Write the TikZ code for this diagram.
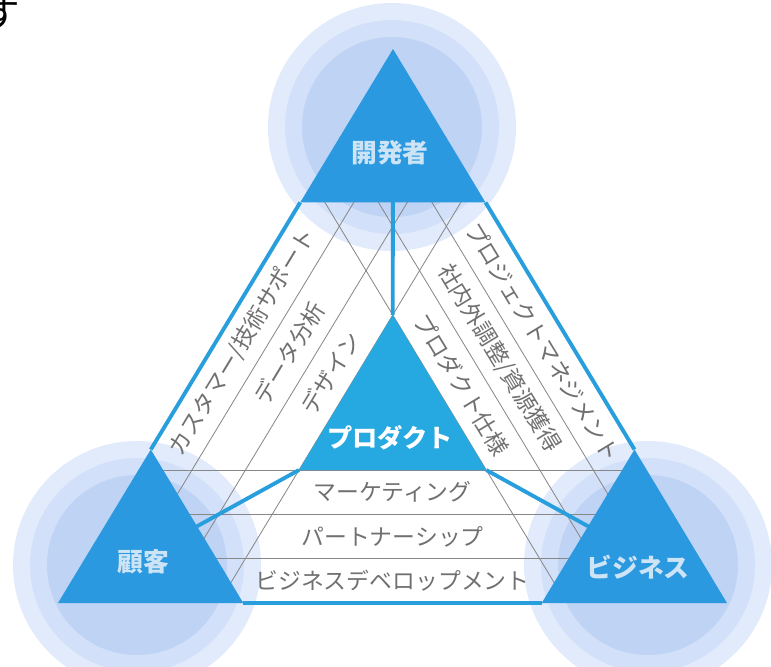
\documentclass[tikz,border=0pt]{standalone}
\usepackage{fontspec}
\setmainfont{Noto Sans CJK JP}
\usepackage{xcolor}
\usepackage{tikz}
\usetikzlibrary{calc}

\definecolor{roleblue}{RGB}{43,153,223}
\definecolor{prodblue}{RGB}{38,168,225}
\definecolor{edgeblue}{RGB}{40,158,220}
\definecolor{haloout}{RGB}{226,235,251}
\definecolor{halomid}{RGB}{210,224,249}
\definecolor{haloin}{RGB}{191,211,245}
\definecolor{rolelabel}{RGB}{205,227,246}
\definecolor{bandtext}{RGB}{112,112,112}
\definecolor{gridgray}{RGB}{135,135,135}

\begin{document}
\begin{tikzpicture}[x=0.03cm, y=-0.03cm,
    gridline/.style={draw=gridgray, line width=0.7pt},
    edge/.style={draw=edgeblue, line width=3.3pt},
    rolebox/.style={fill=roleblue},
    rolename/.style={text=rolelabel, font=\bfseries\fontsize{22}{24}\selectfont},
    prodname/.style={text=white, font=\bfseries\fontsize{21.5}{24}\selectfont},
    bandlabel/.style={text=bandtext, font=\fontsize{19.5}{22}\selectfont, inner sep=0pt}]
\useasboundingbox (0,0) rectangle (771,667);

% big triangle
\coordinate (A) at (393,49);
\coordinate (B) at (58,603);
\coordinate (C) at (727,603);

% corner triangles
\coordinate (devL) at (barycentric cs:A=0.723,B=0.277);
\coordinate (devR) at (barycentric cs:A=0.723,C=0.277);
\coordinate (cusT) at (barycentric cs:B=0.723,A=0.277);
\coordinate (cusR) at (barycentric cs:B=0.723,C=0.277);
\coordinate (bizT) at (barycentric cs:C=0.723,A=0.277);
\coordinate (bizL) at (barycentric cs:C=0.723,B=0.277);
\coordinate (dev) at (barycentric cs:A=1,devL=1,devR=1);
\coordinate (cus) at (barycentric cs:B=1,cusT=1,cusR=1);
\coordinate (biz) at (barycentric cs:C=1,bizT=1,bizL=1);

% product triangle
\coordinate (prodT) at (barycentric cs:A=0.52,B=0.24,C=0.24);
\coordinate (prodL) at (barycentric cs:A=0.24,B=0.52,C=0.24);
\coordinate (prodR) at (barycentric cs:A=0.24,B=0.24,C=0.52);

% halos
\foreach \cx/\cy in {392/127, 137/565, 648/565} {
  \fill[haloout] (\cx,\cy) circle (124);
  \fill[halomid] (\cx,\cy) circle (107);
  \fill[haloin] (\cx,\cy) circle (90);
}

% grid of the three bands
\foreach \t/\s in {0.08/0.92, 0.16/0.84, 0.24/0.76} {
  \draw[gridline] (barycentric cs:A=\t,B=\s) -- (barycentric cs:A=\t,C=\s);
  \draw[gridline] (barycentric cs:B=\t,A=\s) -- (barycentric cs:B=\t,C=\s);
  \draw[gridline] (barycentric cs:C=\t,A=\s) -- (barycentric cs:C=\t,B=\s);
}

% spokes and outline
\draw[edge] (prodT) -- (dev);
\draw[edge] (prodL) -- (cus);
\draw[edge] (prodR) -- (biz);
\draw[edge] (devL) -- (cusT);
\draw[edge] (cusR) -- (bizL);
\draw[edge] (bizT) -- (devR);

\fill[rolebox] (A) -- (devL) -- (devR) -- cycle;
\fill[rolebox] (B) -- (cusT) -- (cusR) -- cycle;
\fill[rolebox] (C) -- (bizT) -- (bizL) -- cycle;
\fill[prodblue] (prodT) -- (prodL) -- (prodR) -- cycle;

\node[rolename] (devname) at (390,153) {開発者};
\node[rolename] (cusname) at (143,562) {顧客};
\node[rolename] (bizname) at (638,567) {ビジネス};
\node[prodname] (prodname) at (390,438) {プロダクト};

% left band
\node[bandlabel, rotate=58.84] (support) at (barycentric cs:A=0.471,B=0.489,C=0.04) {カスタマー/技術サポート};
\node[bandlabel, rotate=58.84] (analysis) at (barycentric cs:A=0.451,B=0.429,C=0.12) {データ分析};
\node[bandlabel, rotate=58.84] (design) at (barycentric cs:A=0.415,B=0.385,C=0.20) {デザイン};

% right band
\node[bandlabel, rotate=-58.84] (pm) at (barycentric cs:A=0.471,B=0.04,C=0.489) {プロジェクトマネジメント};
\node[bandlabel, rotate=-58.84] (coord) at (barycentric cs:A=0.442,B=0.12,C=0.438) {社内外調整/資源獲得};
\node[bandlabel, rotate=-58.84] (spec) at (barycentric cs:A=0.394,B=0.20,C=0.406) {プロダクト仕様};

% bottom band
\node[bandlabel] (marketing) at (barycentric cs:A=0.20,B=0.40,C=0.40) {マーケティング};
\node[bandlabel] (partner) at (barycentric cs:A=0.12,B=0.44,C=0.44) {パートナーシップ};
\node[bandlabel] (bizdev) at (barycentric cs:A=0.04,B=0.48,C=0.48) {ビジネスデベロップメント};

\node[font=\fontsize{32}{32}\selectfont] (su) at (1,14) {す};
\end{tikzpicture}
\end{document}
